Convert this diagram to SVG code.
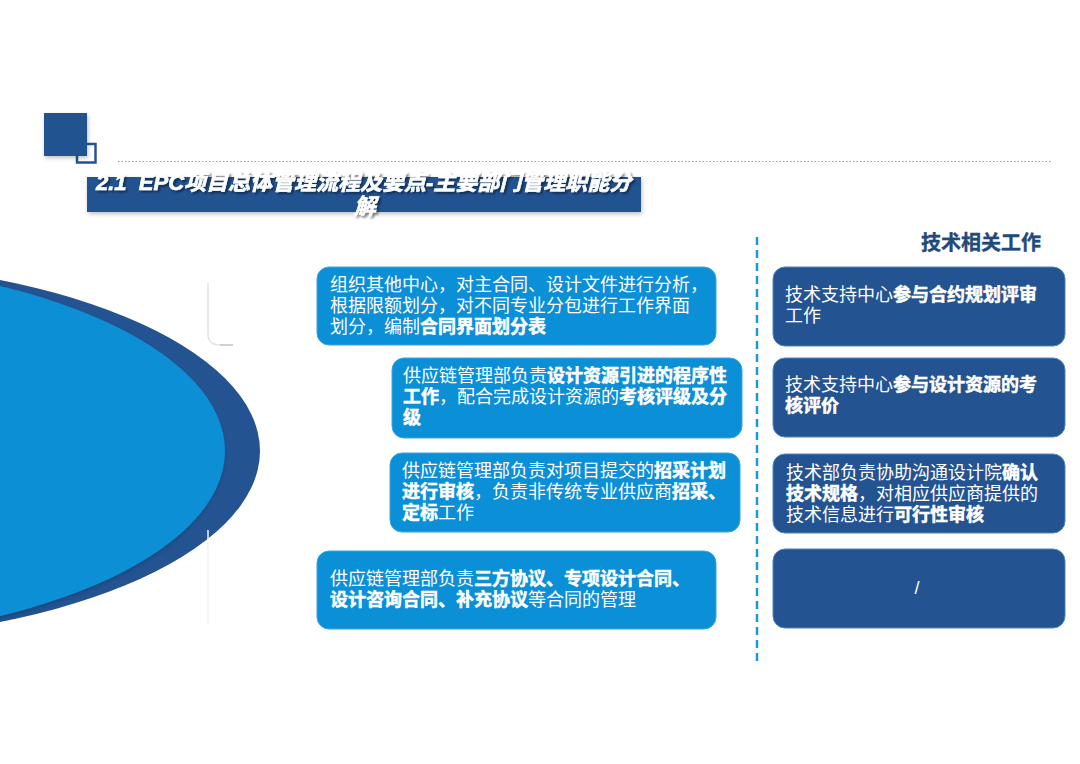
<svg xmlns="http://www.w3.org/2000/svg" width="1080" height="764" viewBox="0 0 1080 764">
<defs>
<filter id="tsh" x="-5%" y="-30%" width="110%" height="160%">
<feDropShadow dx="2" dy="2" stdDeviation="1.2" flood-color="#000" flood-opacity="0.45"/>
</filter>
<filter id="bsh" x="-10%" y="-10%" width="120%" height="130%">
<feDropShadow dx="1" dy="2" stdDeviation="2" flood-color="#000" flood-opacity="0.25"/>
</filter>
<filter id="esh" x="-20%" y="-20%" width="140%" height="140%">
<feDropShadow dx="-2" dy="2" stdDeviation="2" flood-color="#0a2a50" flood-opacity="0.45"/>
</filter>
</defs>
<style>
.t{font-family:"Liberation Sans","Noto Sans CJK SC",sans-serif;font-size:18px;fill:#ffffff;}
.b{font-weight:700;stroke:#ffffff;stroke-width:0.5;}
.lb{fill:#0b8fd6;stroke:#3aa6e2;stroke-width:1;}
.rb{fill:#245391;stroke:#4f86bd;stroke-width:1;}
</style>
<rect width="1080" height="764" fill="#ffffff"/>

<g id="header">
<rect x="77" y="144" width="18.5" height="18.5" fill="none" stroke="#245391" stroke-width="2.5"/>
<rect x="44" y="113" width="43" height="43" fill="#245391" filter="url(#bsh)"/>
<line x1="118" y1="161.5" x2="1052" y2="161.5" stroke="#9a9a9a" stroke-width="1" stroke-dasharray="1.5 2"/>
<rect x="87" y="177" width="554" height="35" fill="#245391" filter="url(#bsh)"/>
<text x="96" y="190" font-family="'Liberation Sans','Noto Sans CJK SC',sans-serif" font-size="22" font-weight="700" font-style="italic" fill="#ffffff" stroke="#ffffff" stroke-width="0.6" filter="url(#tsh)" xml:space="preserve">2.1  EPC项目总体管理流程及要点-主要部门管理职能分</text>
<text x="365" y="214" text-anchor="middle" font-family="'Liberation Sans','Noto Sans CJK SC',sans-serif" font-size="22" font-weight="700" font-style="italic" fill="#ffffff" stroke="#ffffff" stroke-width="0.6" filter="url(#tsh)">解</text>
</g>

<g id="ellipse">
<ellipse cx="-200" cy="451" rx="460" ry="190" fill="#245391"/>
<ellipse cx="-220" cy="451" rx="445" ry="190" fill="#0b8fd6" filter="url(#esh)"/>
<path d="M208,283 L208,334 Q208,345 220,345 L233,345" fill="none" stroke="#e4e4e4" stroke-width="1.5"/>
<path d="M220,345 L233,345" fill="none" stroke="#c8c8c8" stroke-width="1.5"/>
<line x1="208" y1="530" x2="208" y2="625" stroke="#f2f2f2" stroke-width="1.5"/>
</g>

<g id="divider">
<line x1="757" y1="237" x2="757" y2="666" stroke="#1b9ad8" stroke-width="2.5" stroke-dasharray="8 5"/>
</g>

<g id="tech-title">
<text x="1041" y="250" text-anchor="end" font-family="'Liberation Sans','Noto Sans CJK SC',sans-serif" font-size="20" font-weight="700" fill="#1f4a7c" stroke="#1f4a7c" stroke-width="0.4">技术相关工作</text>
</g>

<g id="left-box-1">
<rect class="lb" x="317" y="267" width="399" height="78" rx="12"/>
<text class="t"><tspan x="330" y="291">组织其他中心，对主合同、设计文件进行分析，</tspan><tspan x="330" y="312">根据限额划分，对不同专业分包进行工作界面</tspan><tspan x="330" y="333">划分，编制<tspan class="b">合同界面划分表</tspan></tspan></text>
</g>

<g id="left-box-2">
<rect class="lb" x="392" y="358" width="350" height="80" rx="12"/>
<text class="t"><tspan x="403" y="382">供应链管理部负责<tspan class="b">设计资源引进的程序性</tspan></tspan><tspan x="403" y="403"><tspan class="b">工作</tspan>，配合完成设计资源的<tspan class="b">考核评级及分</tspan></tspan><tspan x="403" y="424" class="b">级</tspan></text>
</g>

<g id="left-box-3">
<rect class="lb" x="390" y="453" width="350" height="79" rx="12"/>
<text class="t"><tspan x="402" y="477">供应链管理部负责对项目提交的<tspan class="b">招采计划</tspan></tspan><tspan x="402" y="498"><tspan class="b">进行审核</tspan>，负责非传统专业供应商<tspan class="b">招采、</tspan></tspan><tspan x="402" y="519"><tspan class="b">定标</tspan>工作</tspan></text>
</g>

<g id="left-box-4">
<rect class="lb" x="317" y="551" width="399" height="78" rx="12"/>
<text class="t"><tspan x="330" y="585">供应链管理部负责<tspan class="b">三方协议、专项设计合同、</tspan></tspan><tspan x="330" y="606"><tspan class="b">设计咨询合同、补充协议</tspan>等合同的管理</tspan></text>
</g>

<g id="right-box-1">
<rect class="rb" x="773" y="267" width="292" height="79" rx="12"/>
<text class="t"><tspan x="785" y="301">技术支持中心<tspan class="b">参与合约规划评审</tspan></tspan><tspan x="785" y="322">工作</tspan></text>
</g>

<g id="right-box-2">
<rect class="rb" x="773" y="358" width="292" height="79" rx="12"/>
<text class="t"><tspan x="785" y="391">技术支持中心<tspan class="b">参与设计资源的考</tspan></tspan><tspan x="785" y="412" class="b">核评价</tspan></text>
</g>

<g id="right-box-3">
<rect class="rb" x="773" y="454" width="292" height="79" rx="12"/>
<text class="t"><tspan x="786" y="479">技术部负责协助沟通设计院<tspan class="b">确认</tspan></tspan><tspan x="786" y="500"><tspan class="b">技术规格</tspan>，对相应供应商提供的</tspan><tspan x="786" y="521">技术信息进行<tspan class="b">可行性审核</tspan></tspan></text>
</g>

<g id="right-box-4">
<rect class="rb" x="773" y="549" width="292" height="79" rx="12"/>
<text class="t" x="917" y="594" text-anchor="middle">/</text>
</g>

<g id="connectors"/>
</svg>
